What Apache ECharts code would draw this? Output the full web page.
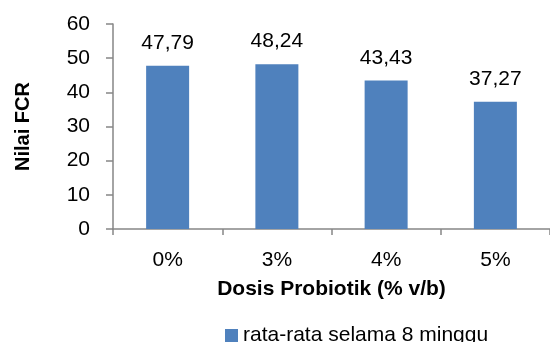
<!DOCTYPE html>
<html>
<head>
<meta charset="utf-8">
<script src="https://cdn.jsdelivr.net/npm/echarts@6/dist/echarts.min.js"></script>
<style>
  html, body { margin: 0; padding: 0; background: #fff; }
  #chart { width: 550px; height: 342px; }
</style>
</head>
<body>
<div id="chart"></div>
<script>
// FCR per probiotic dose
const categories = ['0%', '3%', '4%', '5%'];
const fcrValues = [47.79, 48.24, 43.43, 37.27];
const seriesName = 'rata-rata selama 8 minggu';
const xAxisTitle = 'Dosis Probiotik (% v/b)';
const yAxisTitle = 'Nilai FCR';

const FONT = '"Liberation Sans", Arial, sans-serif';
const AXIS_GREY = '#868686';

const chart = echarts.init(document.getElementById('chart'));
chart.setOption({
  animation: false,
  backgroundColor: '#ffffff',
  textStyle: { fontFamily: FONT, color: '#000' },
  grid: { left: 113, right: 0, top: 24, bottom: 113, containLabel: false },
  legend: {
    data: [seriesName],
    left: 220,
    top: 320,
    icon: 'rect',
    itemWidth: 13,
    itemHeight: 13,
    itemGap: 5,
    textStyle: { fontFamily: FONT, fontSize: 21, color: '#000', padding: [0, 0, 0, 0] }
  },
  xAxis: {
    type: 'category',
    data: categories,
    name: xAxisTitle,
    nameLocation: 'middle',
    nameGap: 50,
    nameTextStyle: { fontFamily: FONT, fontSize: 21, fontWeight: 'bold', color: '#000' },
    axisLine: { show: true, lineStyle: { color: AXIS_GREY, width: 1.5 } },
    axisTick: { show: true, length: 6, lineStyle: { color: AXIS_GREY, width: 1.5 } },
    axisLabel: { fontFamily: FONT, fontSize: 21, color: '#000', margin: 21 },
    splitLine: { show: false }
  },
  yAxis: {
    type: 'value',
    min: 0,
    max: 60,
    interval: 10,
    name: yAxisTitle,
    nameLocation: 'middle',
    nameGap: 80,
    nameRotate: 90,
    nameTextStyle: { fontFamily: FONT, fontSize: 20, fontWeight: 'bold', color: '#000' },
    axisLine: { show: true, lineStyle: { color: AXIS_GREY, width: 1.5 } },
    axisTick: { show: true, length: 7, lineStyle: { color: AXIS_GREY, width: 1.5 } },
    axisLabel: { fontFamily: FONT, fontSize: 21, color: '#000', margin: 23 },
    splitLine: { show: false }
  },
  series: [{
    name: seriesName,
    type: 'bar',
    data: fcrValues,
    barWidth: 43,
    itemStyle: { color: '#4F81BD' },
    label: {
      show: true,
      position: 'top',
      distance: 12,
      fontFamily: FONT,
      fontSize: 21,
      color: '#000',
      formatter: p => p.value.toFixed(2).replace('.', ',')
    }
  }]
});
</script>
</body>
</html>
